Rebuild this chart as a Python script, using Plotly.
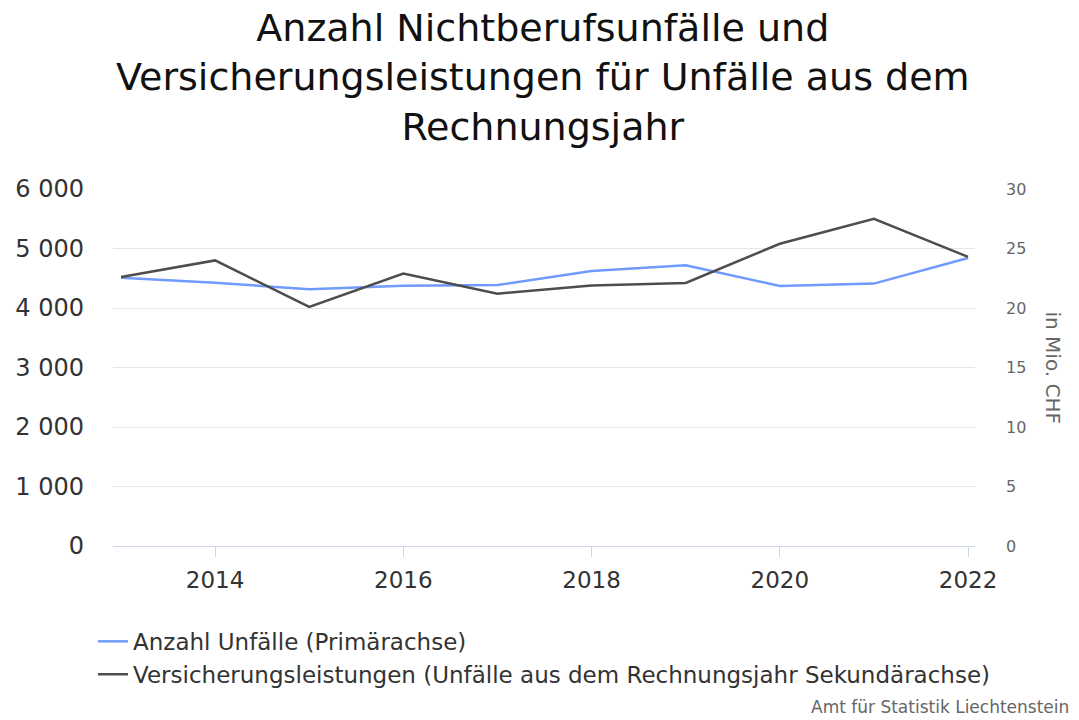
import plotly.graph_objects as go

years = [2013, 2014, 2015, 2016, 2017, 2018, 2019, 2020, 2021, 2022]
unfaelle = [4510, 4425, 4315, 4375, 4385, 4620, 4720, 4370, 4410, 4840]
leistungen = [22.6, 24.0, 20.1, 22.9, 21.2, 21.9, 22.1, 25.4, 27.5, 24.3]

name1 = "Anzahl Unfälle (Primärachse)"
name2 = "Versicherungsleistungen (Unfälle aus dem Rechnungsjahr Sekundärachse)"
title = "Anzahl Nichtberufsunfälle und<br>Versicherungsleistungen für Unfälle aus dem<br>Rechnungsjahr"
y2_title = "in Mio. CHF"
credit = "Amt für Statistik Liechtenstein"

FONT = "DejaVu Sans"

fig = go.Figure()
fig.add_trace(go.Scatter(x=years, y=unfaelle, name=name1, mode="lines",
                         line=dict(color="#6f9bff", width=2.5), yaxis="y"))
fig.add_trace(go.Scatter(x=years, y=leistungen, name=name2, mode="lines",
                         line=dict(color="#4d4d4d", width=2.5), yaxis="y2"))

fig.update_layout(
    width=1079, height=720,
    paper_bgcolor="white", plot_bgcolor="white",
    separators=", ",
    font=dict(family=FONT, color="#333333"),
    margin=dict(l=113, r=104, t=189, b=174),
    xaxis=dict(range=[2012.915, 2022.074], tickmode="array", tickvals=[2014, 2016, 2018, 2020, 2022],
               showgrid=False, showline=True, linecolor="#ccd6eb", linewidth=1,
               ticks="outside", tickcolor="#ccd6eb", ticklen=10, zeroline=False,
               ticklabelstandoff=3, automargin=False,
               tickfont=dict(size=23, color="#333333")),
    yaxis=dict(range=[0, 6000], dtick=1000, showgrid=True, gridcolor="#e6e6e6", gridwidth=1,
               zeroline=False, tickformat=",d", ticks="", ticklabelstandoff=28, automargin=False,
               tickfont=dict(size=24, color="#333333")),
    yaxis2=dict(range=[0, 30], dtick=5, overlaying="y", side="right", showgrid=False,
                zeroline=False, ticks="", ticklabelstandoff=30, automargin=False,
                tickfont=dict(size=16, color="#666666")),
    showlegend=True,
    legend=dict(x=-0.0232, xanchor="left", y=-0.207, yanchor="top", orientation="v",
                font=dict(size=23, color="#333333"), bgcolor="rgba(0,0,0,0)",
                tracegroupgap=0),
)

fig.add_annotation(text=title, xref="paper", yref="paper", x=0.4988, xanchor="center",
                   y=1.3137, yanchor="middle", showarrow=False, align="center",
                   font=dict(family=FONT, size=38, color="#111111"))
fig.add_annotation(text=y2_title, xref="paper", yref="paper", x=1.0905, xanchor="center",
                   y=0.5, yanchor="middle", showarrow=False, textangle=90,
                   font=dict(family=FONT, size=20, color="#666666"))
fig.add_annotation(text=credit, xref="paper", yref="paper",
                   x=1.1114, xanchor="right", y=-0.452, yanchor="middle", showarrow=False,
                   font=dict(family=FONT, size=17, color="#666666"))

fig.write_html("out.html", config={"displayModeBar": False},
               post_script="document.body.style.margin='0';")
